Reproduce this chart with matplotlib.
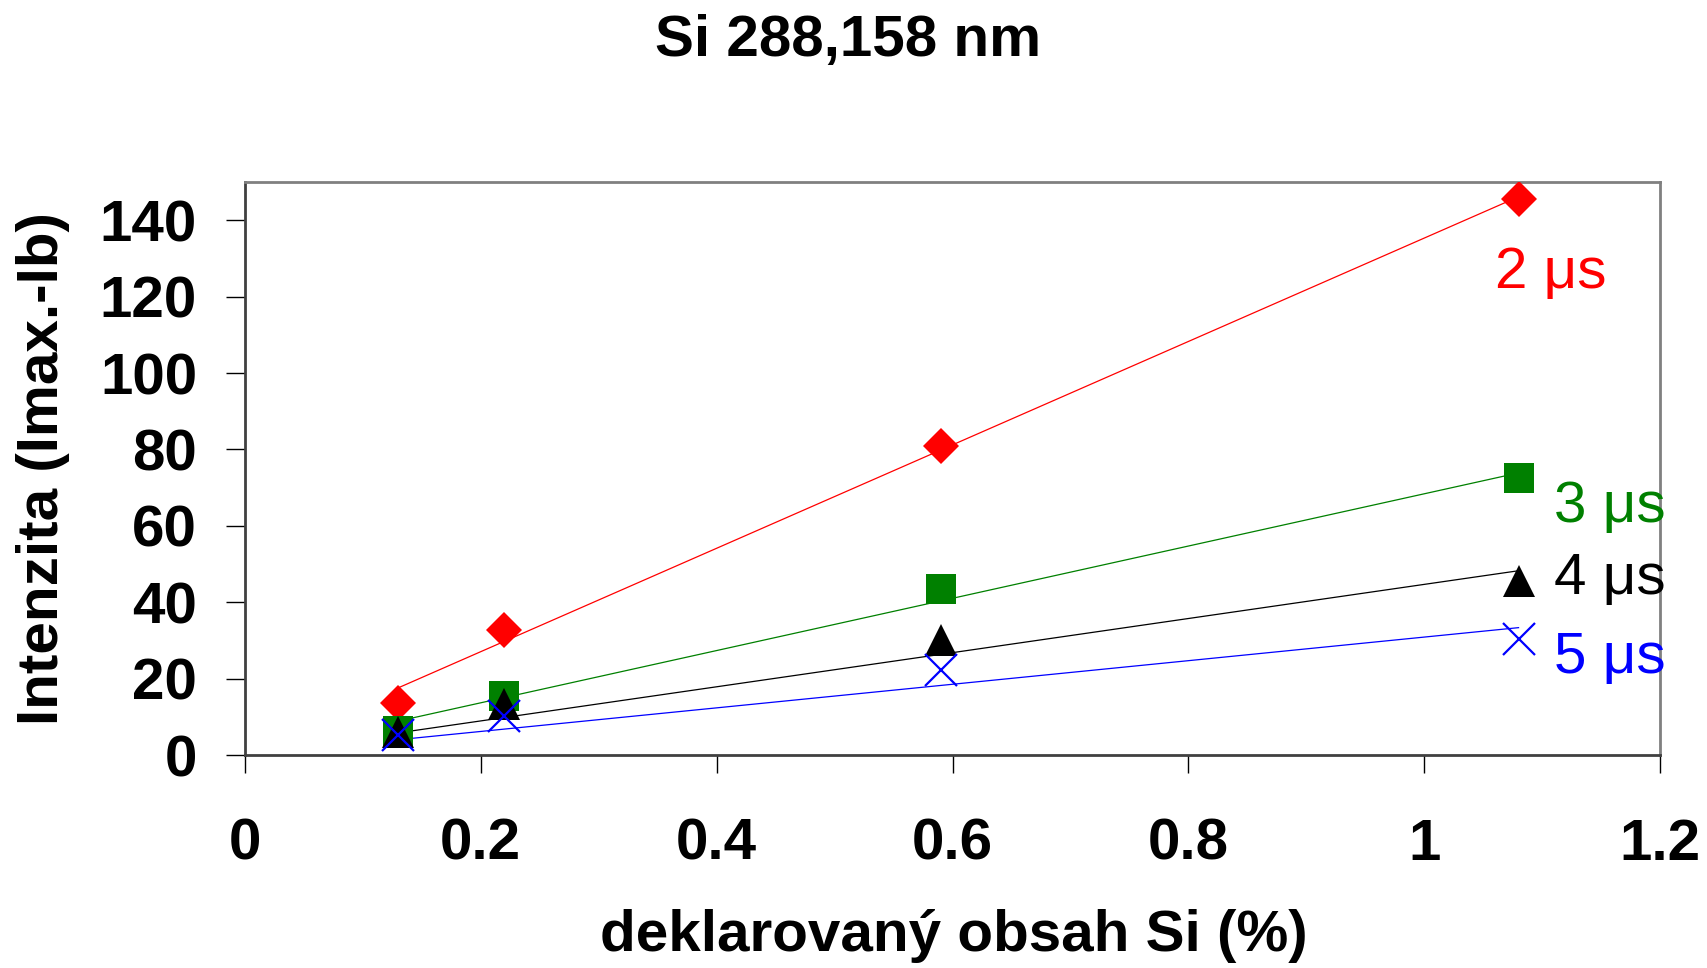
import numpy as np
import matplotlib
matplotlib.use("Agg")
import matplotlib.pyplot as plt

plt.rcParams['font.family'] = ['Liberation Sans', 'DejaVu Sans']

# declared Si content (%)
obsah = [0.13, 0.22, 0.59, 1.08]

# intensities for the four gate delays
i_2us = [13.7, 32.6, 80.8, 145.5]
i_3us = [6.3, 15.5, 43.4, 72.4]
i_4us = [6.0, 13.4, 30.0, 45.5]
i_5us = [5.3, 10.3, 22.2, 30.3]

labels = ["2 \u03bcs", "3 \u03bcs", "4 \u03bcs", "5 \u03bcs"]
label_pos = [(1.060, 126.2), (1.110, 64.9), (1.110, 46.2), (1.110, 25.4)]

series = [
    (i_2us, "red", "D", 18, None),
    (i_3us, "green", "s", 21.5, None),
    (i_4us, "black", "^", 23, None),
    (i_5us, "blue", "x", 23, 1.6),
]

FS = 42

fig = plt.figure(figsize=(17.07, 9.68), dpi=100)
ax = fig.add_axes([0.1435, 0.22, 0.829, 0.592])

x = np.array(obsah)
for (vals, col, mk, ms, mew), lab, (lx, ly) in zip(series, labels, label_pos):
    # linear trendline forced through the origin
    k = np.linalg.lstsq(x[:, None], np.array(vals), rcond=None)[0][0]
    xx = np.array([x.min(), x.max()])
    ax.plot(xx, k * xx, color=col, lw=0.9, zorder=2)
    kw = dict(markeredgewidth=mew) if mew else dict(markeredgewidth=0)
    ax.plot(x, vals, ls="none", marker=mk, ms=ms, color=col, zorder=3, **kw)
    ax.text(lx, ly, lab, color=col, fontsize=FS, va="center", ha="left",
            clip_on=False)

ax.set_xlim(0, 1.2)
ax.set_ylim(0, 150)
ax.set_xticks([0, 0.2, 0.4, 0.6, 0.8, 1, 1.2])
ax.set_xticklabels(["0", "0.2", "0.4", "0.6", "0.8", "1", "1.2"])
ax.set_yticks(range(0, 141, 20))

for side in ["top", "right"]:
    ax.spines[side].set_color("#808080")
    ax.spines[side].set_linewidth(2)
for side in ["left", "bottom"]:
    ax.spines[side].set_color("#404040")
    ax.spines[side].set_linewidth(2)

ax.tick_params(axis="y", direction="out", length=13.5, width=1, pad=21,
               labelsize=FS)
ax.tick_params(axis="x", direction="out", length=13, width=1, pad=32,
               labelsize=FS)
for t in ax.get_xticklabels() + ax.get_yticklabels():
    t.set_fontweight("bold")

fig.text(0.497, 0.958, "Si 288,158 nm", fontsize=FS, fontweight="bold",
         ha="center", va="center")
fig.text(0.559, 0.033, "deklarovaný obsah Si (%)", fontsize=FS,
         fontweight="bold", ha="center", va="center")
fig.text(0.025, 0.516, "Intenzita (Imax.-Ib)", fontsize=FS, fontweight="bold",
         ha="center", va="center", rotation=90)

fig.savefig("out.png", dpi=100)
